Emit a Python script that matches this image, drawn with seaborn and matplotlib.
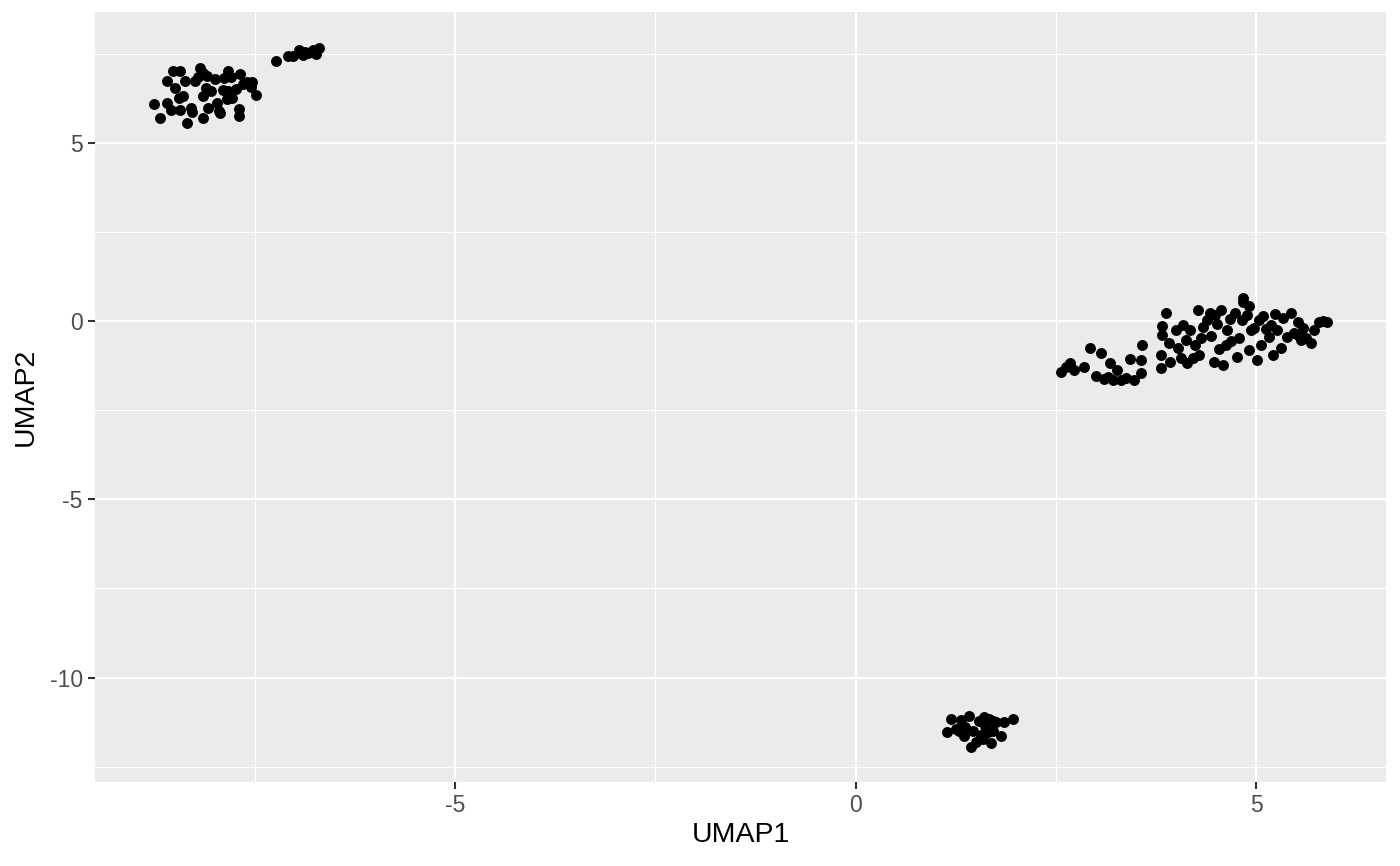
import numpy as np
import pandas as pd
import seaborn as sns
import matplotlib.pyplot as plt
from matplotlib.ticker import MultipleLocator

# UMAP coordinates, one list pair per cluster
c1_x = [-8.76, -8.68, -8.59, -8.59, -8.55, -8.52, -8.49, -8.45, -8.43, -8.40,
        -8.43, -8.37, -8.34, -8.30, -8.25, -8.21, -8.18, -8.15, -8.14, -8.11,
        -8.09, -8.08, -8.05, -8.00, -7.97, -7.95, -7.93, -7.90, -7.88, -7.85,
        -7.83, -7.80, -7.78, -7.73, -7.70, -7.70, -7.68, -7.64, -7.59, -7.55,
        -7.53, -7.48, -7.83, -8.14, -8.28,
        -7.23, -7.08, -7.02, -6.95, -6.90, -6.87, -6.83, -6.77, -6.73, -6.70]
c1_y = [6.10, 5.70, 6.74, 6.12, 5.93, 7.02, 6.54, 6.26, 7.02, 6.32,
        5.93, 6.74, 5.56, 5.98, 6.74, 6.85, 7.11, 6.32, 5.70, 6.54,
        6.88, 5.98, 6.46, 6.80, 6.12, 5.90, 5.84, 6.49, 6.83, 6.24,
        6.46, 6.85, 6.26, 6.52, 5.76, 5.96, 6.94, 6.66, 6.71, 6.57,
        6.71, 6.35, 7.02, 6.97, 5.87,
        7.30, 7.44, 7.44, 7.61, 7.47, 7.56, 7.53, 7.61, 7.50, 7.67]

c2_x = [2.57, 2.63, 2.68, 2.72, 2.85, 2.93, 3.00, 3.06, 3.10, 3.15,
        3.18, 3.21, 3.26, 3.31, 3.38, 3.43, 3.48, 3.56, 3.58, 3.81,
        3.81, 3.83, 3.83, 3.88, 3.91, 3.93, 4.00, 4.03, 4.06, 4.09,
        4.12, 4.14, 4.18, 4.21, 4.24, 4.27, 4.28, 4.31, 4.34, 4.38,
        4.42, 4.43, 4.47, 4.51, 4.54, 4.56, 4.58, 4.62, 4.63, 4.67,
        4.69, 4.73, 4.76, 4.79, 4.82, 4.84, 4.88, 4.91, 4.93, 4.97,
        5.01, 5.03, 5.06, 5.09, 5.12, 5.16, 5.18, 5.21, 5.23, 5.26,
        5.31, 5.34, 5.38, 5.43, 5.47, 5.52, 5.56, 5.58, 5.62, 5.68,
        5.72, 5.78, 5.83, 5.88, 5.52, 4.84, 4.91, 4.49, 3.56]
c2_y = [-1.43, -1.29, -1.18, -1.38, -1.29, -0.76, -1.54, -0.90, -1.63, -1.57,
        -1.18, -1.66, -1.38, -1.66, -1.60, -1.07, -1.66, -1.46, -0.67, -1.32,
        -0.96, -0.39, -0.14, 0.22, -0.62, -1.15, -0.25, -0.76, -1.04, -0.11,
        -0.53, -1.18, -0.25, -1.04, -0.67, 0.31, -0.96, -0.48, -0.17, 0.03,
        0.22, -0.42, -1.15, -0.08, -0.79, 0.31, -1.24, -0.67, -0.25, 0.06,
        -0.56, 0.22, -1.01, -0.48, 0.03, 0.53, 0.17, -0.81, -0.25, -0.20,
        -1.10, 0.03, -0.67, 0.14, -0.22, -0.45, -0.11, -0.96, 0.20, -0.25,
        -0.76, 0.08, -0.45, 0.22, -0.34, -0.03, -0.53, -0.20, -0.48, -0.62,
        -0.25, -0.03, 0.00, -0.03, -0.40, 0.65, 0.42, 0.17, -1.10]

c3_x = [1.14, 1.19, 1.25, 1.31, 1.35, 1.41, 1.44, 1.47, 1.54, 1.59,
        1.62, 1.66, 1.69, 1.72, 1.75, 1.81, 1.85, 1.96, 1.29, 1.56,
        1.65, 1.50, 1.37, 1.71, 1.60]
c3_y = [-11.54, -11.15, -11.43, -11.18, -11.63, -11.07, -11.94, -11.49, -11.21, -11.71,
        -11.35, -11.15, -11.83, -11.49, -11.26, -11.63, -11.26, -11.15, -11.49, -11.60,
        -11.54, -11.80, -11.38, -11.21, -11.10]

df = pd.DataFrame({'UMAP1': c1_x + c2_x + c3_x,
                   'UMAP2': c1_y + c2_y + c3_y})

plt.rcParams['font.family'] = ['Liberation Sans', 'DejaVu Sans']
plt.rcParams['axes.unicode_minus'] = False  # ggplot-style hyphen minus

fig = plt.figure(figsize=(14, 8.66), dpi=100)
ax = fig.add_axes([0.068, 0.097, 0.922, 0.889])
ax.set_facecolor('#EBEBEB')

sns.scatterplot(data=df, x='UMAP1', y='UMAP2', color='black', s=62,
                linewidth=0, ax=ax, zorder=3)

ax.set_xlim(-9.49, 6.62)
ax.set_ylim(-12.93, 8.67)
ax.xaxis.set_major_locator(MultipleLocator(5))
ax.xaxis.set_minor_locator(MultipleLocator(2.5))
ax.yaxis.set_major_locator(MultipleLocator(5))
ax.yaxis.set_minor_locator(MultipleLocator(2.5))
ax.grid(which='major', color='white', linewidth=1.6, zorder=0)
ax.grid(which='minor', color='white', linewidth=0.8, zorder=0)
ax.set_axisbelow(True)

for s in ax.spines.values():
    s.set_visible(False)
ax.tick_params(which='major', length=5, width=1.5, color='#333333',
               labelcolor='#4D4D4D', labelsize=16.5, pad=4)
ax.tick_params(which='minor', length=0)

ax.set_xlabel('UMAP1', fontsize=20.5, color='black')
ax.set_ylabel('UMAP2', fontsize=20.5, color='black')
ax.xaxis.set_label_coords(0.5, -0.069)
ax.xaxis.label.set_va('center')
ax.yaxis.set_label_coords(-0.054, 0.5)
ax.yaxis.label.set_va('center')

fig.savefig('out.png', dpi=100)
